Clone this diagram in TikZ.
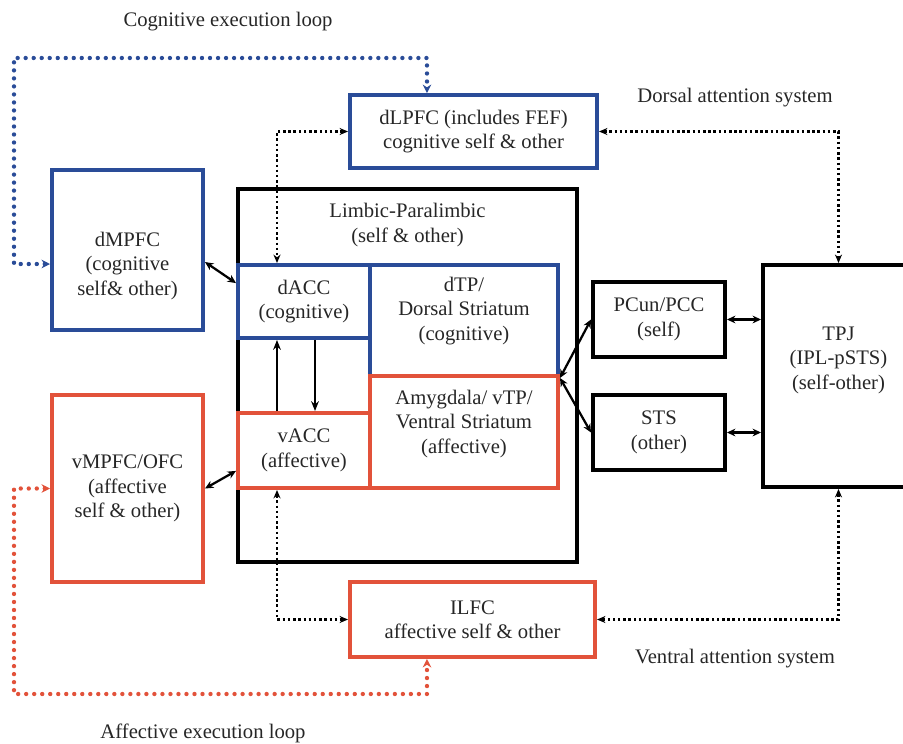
\documentclass[tikz,border=0pt]{standalone}
\usepackage{fontspec}
\setmainfont{Liberation Serif}
\usepackage{tikz}
\usetikzlibrary{arrows.meta,positioning,calc}
\definecolor{cogblue}{RGB}{42,76,152}
\definecolor{affred}{RGB}{226,82,58}
\definecolor{inkgray}{RGB}{38,38,38}
\tikzset{
  region/.style={rectangle, draw, line width=2.8pt, inner sep=0pt, align=center, text=inkgray,
                 font=\fontsize{14.7}{17.4}\selectfont},
  regionblue/.style={region, draw=cogblue},
  regionred/.style={region, draw=affred},
  regionblack/.style={region, draw=black},
  caption/.style={font=\fontsize{14.7}{17.4}\selectfont, text=inkgray, align=center},
  link/.style={{Stealth[length=6pt,width=5.5pt]}-{Stealth[length=6pt,width=5.5pt]}, line width=1.6pt},
  thinarrow/.style={-{Stealth[length=7pt,width=5.5pt]}, line width=0.9pt},
  attend/.style={{Stealth[length=6pt,width=5pt]}-{Stealth[length=6pt,width=5pt]}, line width=2.1pt,
                 dash pattern=on 1.8pt off 1.9pt},
  loopblue/.style={{Stealth[length=6pt,width=6pt]}-{Stealth[length=6pt,width=6pt]}, draw=cogblue,
                   line width=3.1pt, line cap=round, dash pattern=on 0pt off 5.7pt},
  loopred/.style={loopblue, draw=affred},
}
\begin{document}
\begin{tikzpicture}[x=0.025cm, y=-0.025cm]
\useasboundingbox (0,0) rectangle (903,744);
\clip (0,0) rectangle (903,744);

% limbic-paralimbic frame
\node[regionblack, line width=3.4pt, minimum width=8.475cm, minimum height=9.325cm,
      label={[caption, yshift=3.76cm]center:{Limbic-Paralimbic\\(self \& other)}}] (limbic) at (407.5,375.5) {};

% cognitive regions
\node[regionblue, minimum width=6.175cm, minimum height=1.825cm] (dlpfc) at (473.5,131.5)
  {dLPFC (includes FEF)\\cognitive self \& other};
\node[regionblue, minimum width=3.775cm, minimum height=4cm,
      label={[caption, yshift=-0.4cm]center:{dMPFC\\(cognitive\\self\& other)}}] (dmpfc) at (127.5,250) {};
\node[regionblue, minimum width=3.3cm, minimum height=1.825cm] (dacc) at (304,301.5) {dACC\\(cognitive)};
\node[regionblue, minimum width=4.7cm, minimum height=2.775cm,
      label={[caption, yshift=0.24cm]center:{dTP/\\Dorsal Striatum\\(cognitive)}}] (dtp) at (464,320.5) {};

% affective regions
\node[regionred, minimum width=3.775cm, minimum height=4.675cm] (vmpfc) at (127.5,488.5)
  {vMPFC/OFC\\(affective\\self \& other)};
\node[regionred, minimum width=3.3cm, minimum height=1.875cm] (vacc) at (304,450.5) {vACC\\(affective)};
\node[regionred, minimum width=4.7cm, minimum height=2.8cm,
      label={[caption, yshift=0.2cm]center:{Amygdala/ vTP/\\Ventral Striatum\\(affective)}}] (amyg) at (464,432) {};
\node[regionred, minimum width=6.125cm, minimum height=1.875cm] (ilfc) at (472.5,619.5)
  {ILFC\\affective self \& other};

% self / other regions
\node[regionblack, minimum width=3.3cm, minimum height=1.875cm] (pcun) at (659,319.5) {PCun/PCC\\(self)};
\node[regionblack, minimum width=3.3cm, minimum height=1.875cm] (sts) at (659,432.5) {STS\\(other)};
\node[regionblack, minimum width=3.775cm, minimum height=5.55cm,
      label={[caption, yshift=0.4cm]center:{TPJ\\(IPL-pSTS)\\(self-other)}}] (tpj) at (838.5,376) {};
\coordinate (hub) at (dtp.south east);

% captions
\node[caption] (cogcap) at (228,22) {Cognitive execution loop};
\node[caption] (dorsalcap) at (735,98) {Dorsal attention system};
\node[caption] (ventralcap) at (735,659) {Ventral attention system};
\node[caption] (affcap) at (203,733) {Affective execution loop};

% execution loops
\draw[loopblue] ([yshift=-0.35cm]dmpfc.west) -- (14,264) -- (14,58) -| ([xshift=-1.1625cm]dlpfc.north);
\draw[loopred] (vmpfc.west) -- (14,488.5) -- (14,694) -| ([xshift=-1.1375cm]ilfc.south);

% attention systems
\draw[attend] (dlpfc.west) -| ([xshift=-0.675cm]dacc.north);
\draw[attend] (dlpfc.east) -| (tpj.north);
\draw[attend] (tpj.south) |- (ilfc.east);
\draw[attend] ([xshift=-0.675cm]vacc.south) |- (ilfc.west);

% solid links
\draw[link] ([yshift=-0.3cm]dmpfc.east) -- ([yshift=0.46cm]dacc.west);
\draw[link] (vmpfc.east) -- ([yshift=-0.51cm]vacc.west);
\draw[thinarrow] ([xshift=0.275cm]dacc.south) -- ([xshift=0.275cm]vacc.north);
\draw[thinarrow] ([xshift=-0.675cm]vacc.north) -- ([xshift=-0.675cm]dacc.south);
\foreach \b in {pcun, sts}
  \draw[link] (hub) -- (\b.west);
\foreach \b in {pcun, sts}
  \draw[link] (\b.east) -- (\b.east -| tpj.west);
\end{tikzpicture}
\end{document}
